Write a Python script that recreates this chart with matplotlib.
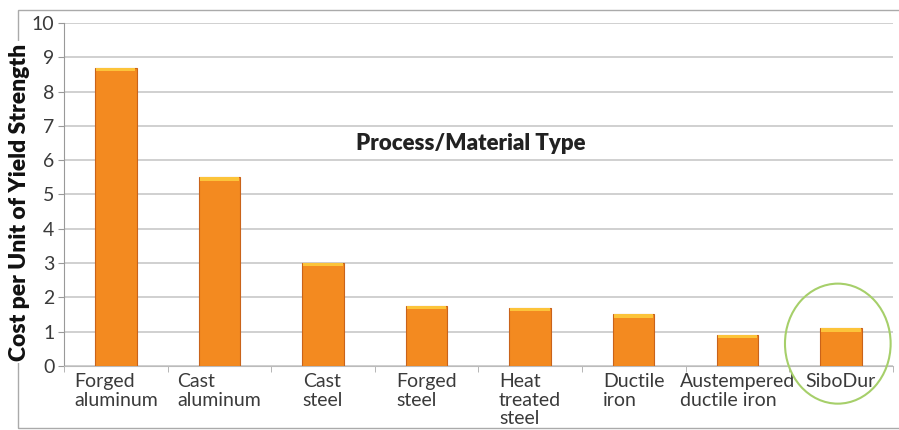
import matplotlib.pyplot as plt
from matplotlib.patches import Ellipse, Rectangle
import numpy as np

categories = ['Forged\naluminum', 'Cast\naluminum', 'Cast\nsteel', 'Forged\nsteel',
              'Heat\ntreated\nsteel', 'Ductile\niron', 'Austempered\nductile iron', 'SiboDur']
costs = [8.7, 5.5, 3.0, 1.75, 1.7, 1.5, 0.9, 1.1]
y_ticks = list(range(0, 11))

plt.rcParams['font.family'] = ['Lato', 'DejaVu Sans']

fig = plt.figure(figsize=(8.99, 4.30), dpi=100)
ax = fig.add_axes([0.0712, 0.149, 0.9218, 0.7975])

x = np.arange(len(categories))
ax.bar(x, costs, width=0.4, color='#f38a20', edgecolor='#c9631a', linewidth=0.8, zorder=3)
# yellow highlight on the top of each bar
ax.bar(x, [0.1] * len(costs), bottom=np.array(costs) - 0.1, width=0.38,
       color='#fcc43a', linewidth=0, zorder=4)

ax.set_xlim(-0.5, len(categories) - 0.5)
ax.set_ylim(0, 10)
ax.set_yticks(y_ticks)
ax.set_yticklabels([str(v) for v in y_ticks], fontsize=14, color='#3a3a3a')
ax.set_xticks(x)
ax.set_xticklabels(categories, fontsize=14, color='#3a3a3a',
                   ha='center', va='top', multialignment='left', linespacing=1.12)
ax.tick_params(axis='x', length=0, pad=5)
ax.tick_params(axis='y', length=4, color='#999999', pad=3)
# minor ticks at category boundaries
ax.set_xticks(np.arange(-0.5, len(categories), 1), minor=True)
ax.tick_params(axis='x', which='minor', length=4, color='#aaaaaa')

ax.grid(axis='y', color='#c8c8c8', linewidth=1.2, zorder=0)
for s in ['top', 'right']:
    ax.spines[s].set_visible(False)
ax.spines['left'].set_color('#999999')
ax.spines['bottom'].set_color('#bbbbbb')

ax.text(3.43, 6.5, 'Process/Material Type', fontsize=16, fontweight='heavy',
        ha='center', va='center', color='#222222')

# highlight circle around SiboDur
ax.add_patch(Ellipse((6.97, 0.65), 1.02, 3.5, fill=False, edgecolor='#a6cf6a',
                     linewidth=1.5, clip_on=False, zorder=5))

# outer frame
fig.add_artist(Rectangle((18 / 899, 2 / 430), 1.0, 418 / 430, transform=fig.transFigure,
                         fill=False, edgecolor='#aaaaaa', linewidth=1.0))
fig.text(20 / 899, 0.53, 'Cost per Unit of Yield Strength', rotation=90, fontsize=16.5,
         fontweight='heavy', ha='center', va='center', color='#111111',
         bbox=dict(facecolor='white', edgecolor='none', pad=2))

fig.savefig('out.png', dpi=100)
